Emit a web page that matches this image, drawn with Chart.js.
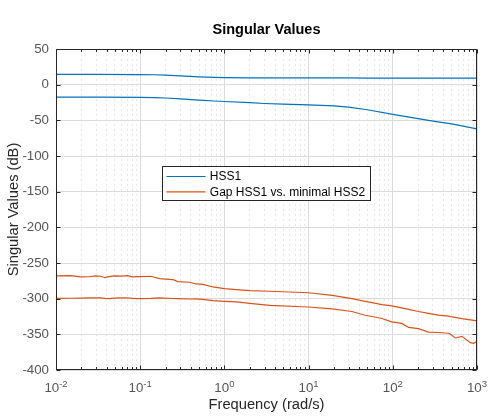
<!DOCTYPE html>
<html>
<head>
<meta charset="utf-8">
<script src="https://cdn.jsdelivr.net/npm/chart.js@4"></script>
<style>
  body { margin: 0; background: #fff; }
  #wrap { width: 496px; height: 420px; position: relative; }
</style>
</head>
<body>
<div id="wrap"><canvas id="sigma"></canvas></div>
<script>
// HSS1 singular values (dB)
const freqHss = [0.01, 0.03, 0.1, 0.15, 0.2, 0.3, 0.5, 0.75, 1, 2, 3, 5, 10, 20, 30, 50, 100, 200, 300, 500, 1000];
const hss1Upper = [14.3, 14.3, 14.2, 13.9, 13.3, 12.2, 10.9, 10.1, 9.8, 9.6, 9.5, 9.5, 9.4, 9.4, 9.4, 9.3, 9.3, 9.3, 9.3, 9.3, 9.3];
const hss1Lower = [-17.6, -17.6, -17.8, -18.2, -18.7, -19.9, -21.8, -22.9, -23.6, -25.3, -26.4, -27.3, -28.2, -29.6, -31.5, -35.2, -41.7, -47.7, -51, -55, -62];

// Gap HSS1 vs. minimal HSS2 singular values (dB)
const freqGap = [0.01, 0.015, 0.0195, 0.025, 0.0295, 0.034, 0.038, 0.043, 0.049, 0.06, 0.071, 0.081, 0.1, 0.134,
  0.169, 0.244, 0.28, 0.385, 0.46, 0.556, 0.73, 1, 1.39, 2, 3.46, 10, 19, 32.7, 47, 56.6, 74.3, 97, 128, 154, 202,
  266, 350, 459, 482, 552, 664, 832, 912, 1000];
const gapUpper = [-268, -267.6, -269.5, -269.3, -268, -268.6, -270.6, -269, -268, -268.3, -267.6, -269.5, -269, -268.6,
  -271.8, -273.2, -276, -277, -279.4, -280, -283.6, -286, -287.3, -288.7, -289.6, -291.7, -295.5, -300, -303.8, -305.6,
  -308.3, -310.2, -313, -315, -318, -320.5, -323, -324.6, -325.2, -326.3, -328, -329.8, -330.5, -331.1];
const gapLower = [-299.6, -299.4, -299.2, -299, -298.7, -299, -299.5, -299.8, -299.3, -298.8, -298.7, -299.5, -300, -299.6,
  -299, -299.8, -300, -300.5, -300.2, -300.9, -302.8, -303.7, -304.6, -306.5, -309.3, -311.7, -314.4, -318, -323.2, -325,
  -327.8, -332.5, -334.7, -340.3, -342, -346.9, -347.4, -348.5, -349.6, -355.1, -352.8, -361.6, -362.5, -359.7];

// axes
const xDecades = [-2, -1, 0, 1, 2, 3];
const yTicks = [50, 0, -50, -100, -150, -200, -250, -300, -350, -400];

const FONT = "'Liberation Sans', Arial, Helvetica, sans-serif";
const BLUE = '#0072BD';
const ORANGE = '#D95319';

function toPoints(xs, ys) {
  return xs.map((x, i) => ({ x: x, y: ys[i] }));
}

function isDecade(v) {
  const e = Math.log10(v);
  return Math.abs(e - Math.round(e)) < 1e-9;
}

function lineSet(label, xs, ys, color) {
  return {
    label: label,
    data: toPoints(xs, ys),
    borderColor: color,
    backgroundColor: color,
    borderWidth: 1.2,
    pointRadius: 0,
    tension: 0,
    fill: false
  };
}

// draws title, labels, frame, inward ticks and the legend box the MATLAB way
const matlabAxes = {
  id: 'matlabAxes',
  afterDraw(chart) {
    const ctx = chart.ctx;
    const area = chart.chartArea;
    const xs = chart.scales.x;
    const ys = chart.scales.y;
    const L = Math.round(area.left) + 0.5, R = Math.round(area.right) - 0.5;
    const T = Math.round(area.top) + 0.5, B = Math.round(area.bottom) - 0.5;

    ctx.save();
    ctx.strokeStyle = '#262626';
    ctx.lineWidth = 1;

    // tick marks (inside the box)
    ctx.beginPath();
    xs.ticks.forEach(t => {
      const px = Math.round(xs.getPixelForValue(t.value)) + 0.5;
      const len = isDecade(t.value) ? 4 : 2.5;
      ctx.moveTo(px, B); ctx.lineTo(px, B - len);
      ctx.moveTo(px, T); ctx.lineTo(px, T + len);
    });
    yTicks.forEach(v => {
      const py = Math.round(ys.getPixelForValue(v)) + 0.5;
      ctx.moveTo(L, py); ctx.lineTo(L + 4, py);
      ctx.moveTo(R, py); ctx.lineTo(R - 4, py);
    });
    ctx.stroke();

    // frame
    ctx.strokeRect(L, T, R - L, B - T);

    // x tick labels 10^n
    ctx.fillStyle = '#555555';
    ctx.textBaseline = 'alphabetic';
    ctx.textAlign = 'left';
    xDecades.forEach(e => {
      const px = xs.getPixelForValue(Math.pow(10, e));
      ctx.font = '13.3px ' + FONT;
      const wBase = ctx.measureText('10').width;
      ctx.font = '9.5px ' + FONT;
      const wExp = ctx.measureText(String(e)).width;
      const x0 = px - (wBase + wExp) / 2;
      ctx.font = '13.3px ' + FONT;
      ctx.fillText('10', x0, area.bottom + 22.3);
      ctx.font = '9.5px ' + FONT;
      ctx.fillText(String(e), x0 + wBase, area.bottom + 17.3);
    });

    // axis labels
    ctx.fillStyle = '#262626';
    ctx.font = '14.7px ' + FONT;
    ctx.textAlign = 'center';
    ctx.textBaseline = 'middle';
    ctx.fillText('Frequency (rad/s)', (area.left + area.right) / 2, 405);
    ctx.save();
    ctx.translate(14, (area.top + area.bottom) / 2);
    ctx.rotate(-Math.PI / 2);
    ctx.fillText('Singular Values (dB)', 0, 0);
    ctx.restore();

    // title
    ctx.fillStyle = '#000000';
    ctx.font = 'bold 14.5px ' + FONT;
    ctx.fillText('Singular Values', (area.left + area.right) / 2, 30);

    // legend
    const seen = [];
    const entries = [];
    chart.data.datasets.forEach(ds => {
      if (seen.indexOf(ds.label) < 0) { seen.push(ds.label); entries.push(ds); }
    });
    ctx.font = '12px ' + FONT;
    let tw = 0;
    entries.forEach(d => { tw = Math.max(tw, ctx.measureText(d.label).width); });
    const bx = Math.round(area.left + 106) + 0.5;
    const by = Math.round(area.top + 116.7) + 0.5;
    const bw = Math.round(4 + 39 + 4.3 + tw + 5);
    const bh = 34;
    ctx.fillStyle = '#ffffff';
    ctx.fillRect(bx, by, bw, bh);
    ctx.strokeStyle = '#262626';
    ctx.strokeRect(bx, by, bw, bh);
    ctx.textAlign = 'left';
    entries.forEach((d, i) => {
      const cy = by + 10 + i * 15.3;
      ctx.strokeStyle = d.borderColor;
      ctx.lineWidth = 1.2;
      ctx.beginPath();
      ctx.moveTo(bx + 4, cy); ctx.lineTo(bx + 43, cy);
      ctx.stroke();
      ctx.fillStyle = '#000000';
      ctx.fillText(d.label, bx + 47.3, cy + 0.5);
    });
    ctx.restore();
  }
};

new Chart(document.getElementById('sigma'), {
  type: 'line',
  data: {
    datasets: [
      lineSet('HSS1', freqHss, hss1Upper, BLUE),
      lineSet('HSS1', freqHss, hss1Lower, BLUE),
      lineSet('Gap HSS1 vs. minimal HSS2', freqGap, gapUpper, ORANGE),
      lineSet('Gap HSS1 vs. minimal HSS2', freqGap, gapLower, ORANGE)
    ]
  },
  options: {
    responsive: true,
    maintainAspectRatio: false,
    animation: false,
    layout: { padding: { left: 0, top: 49, right: 19, bottom: 0 } },
    plugins: {
      legend: { display: false },
      title: { display: false },
      tooltip: { enabled: false }
    },
    scales: {
      x: {
        type: 'logarithmic',
        min: 0.01,
        max: 1000,
        afterBuildTicks: scale => {
          const ticks = [];
          xDecades.forEach(e => {
            for (let m = 1; m <= 9; m++) {
              const v = m * Math.pow(10, e);
              if (v <= 1000 + 1e-9) ticks.push({ value: v });
            }
          });
          scale.ticks = ticks;
        },
        afterFit: scale => { scale.height = 50; },
        ticks: { display: false },
        grid: {
          drawTicks: false,
          lineWidth: 1,
          color: c => (c.tick && isDecade(c.tick.value)) ? '#dcdcdc' : '#e8e8e8'
        },
        border: {
          display: false,
          dash: c => (c.tick && isDecade(c.tick.value)) ? [] : [2, 3]
        }
      },
      y: {
        min: -400,
        max: 50,
        afterBuildTicks: scale => { scale.ticks = yTicks.map(v => ({ value: v })); },
        afterFit: scale => { scale.width = 56; },
        ticks: {
          padding: 7,
          color: '#555555',
          font: { family: FONT, size: 13.3 }
        },
        grid: { drawTicks: false, color: '#dcdcdc', lineWidth: 1 },
        border: { display: false }
      }
    }
  },
  plugins: [matlabAxes]
});
</script>
</body>
</html>
